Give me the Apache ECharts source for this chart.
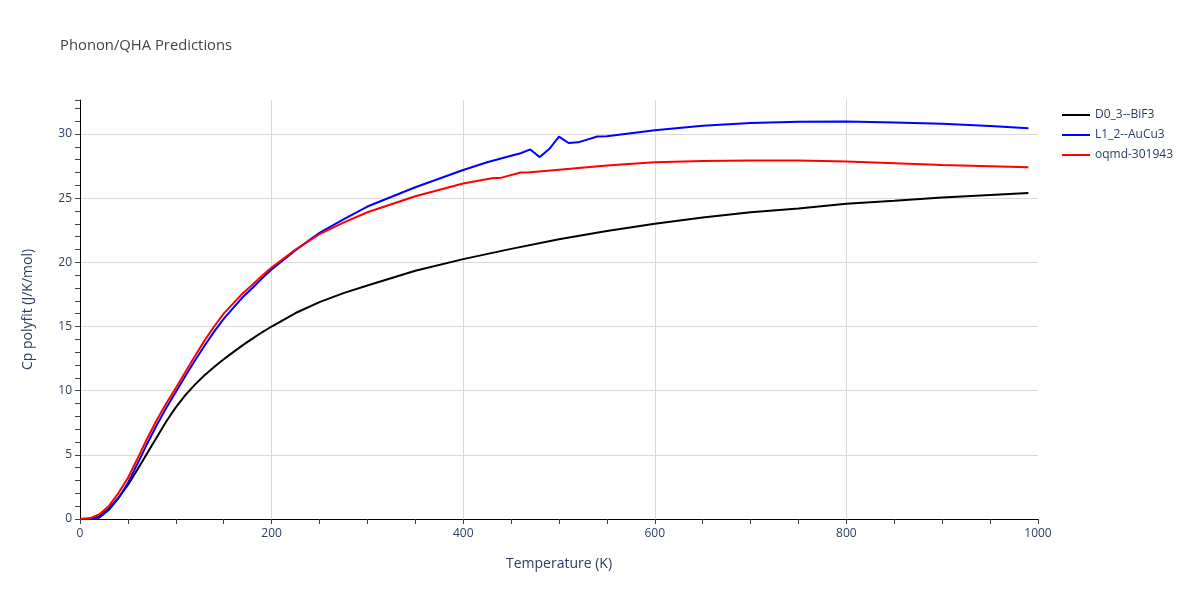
<!DOCTYPE html>
<html>
<head>
<meta charset="utf-8">
<script src="https://cdn.jsdelivr.net/npm/echarts@6/dist/echarts.min.js"></script>
<style>html,body{margin:0;padding:0;background:#fff}#c{width:1200px;height:600px}</style>
</head>
<body>
<div id="c"></div>
<script>
var temps = [0,10,20,30,40,50,60,70,80,90,100,110,120,130,140,150,160,170,180,190,200,225,250,275,300,350,400,450,500,550,600,650,700,750,800,850,900,950,990];
var cpBiF3 = [0,0.02,0.2,0.8,1.65,2.65,3.85,5.1,6.35,7.6,8.7,9.65,10.47,11.2,11.85,12.45,13.0,13.55,14.05,14.55,15.0,16.05,16.9,17.6,18.2,19.35,20.25,21.05,21.8,22.45,23.0,23.5,23.9,24.2,24.56,24.8,25.05,25.25,25.4];
var cpOqmd = [0,0.05,0.35,1.0,2.0,3.2,4.7,6.25,7.7,9.0,10.2,11.45,12.7,13.9,15.0,16.0,16.8,17.6,18.25,18.95,19.6,21.0,22.2,23.1,23.9,25.15,26.15,26.85,27.22,27.55,27.8,27.9,27.93,27.93,27.85,27.72,27.58,27.48,27.4];
var tempsAuCu3 = [0,10,20,30,40,50,60,70,80,90,100,110,120,130,140,150,160,170,180,190,200,225,250,275,300,350,400,425,450,460,470,480,490,500,510,520,540,550,600,650,700,750,800,850,900,950,990];
var cpAuCu3 = [0,0.01,0.1,0.7,1.6,2.8,4.3,5.85,7.3,8.65,9.9,11.15,12.35,13.5,14.6,15.6,16.45,17.3,18.0,18.75,19.45,20.95,22.3,23.35,24.35,25.85,27.2,27.8,28.3,28.5,28.8,28.2,28.85,29.8,29.3,29.35,29.8,29.82,30.3,30.65,30.85,30.95,30.98,30.9,30.8,30.62,30.45];
// red plateau detail (oqmd) around 430-470
var oqmdDetailT = [430,440,460,470];
var oqmdDetailV = [26.55,26.6,27.0,27.02];

function pairs(t, v){ return t.map(function(x,i){ return [x, v[i]]; }); }
var oqmdPairs = pairs(temps, cpOqmd).filter(function(p){ return p[0] !== 450; })
  .concat(pairs(oqmdDetailT, oqmdDetailV)).sort(function(a,b){return a[0]-b[0];});

var font = '"Open Sans", "Noto Sans", sans-serif';
var txt = '#2a3f5f';
var chart = echarts.init(document.getElementById('c'));
chart.setOption({
  animation: false,
  backgroundColor: '#fff',
  title: { text: 'Phonon/QHA Predictions', left: 55, top: 33, textStyle: { fontFamily: font, fontSize: 14.8, fontWeight: 'normal', color: '#444' } },
  legend: {
    left: 1057, top: 104, orient: 'vertical', itemGap: 8, itemWidth: 28, itemHeight: 2,
    icon: 'rect',
    textStyle: { fontFamily: font, fontSize: 12, color: txt },
    data: ['D0_3--BiF3', 'L1_2--AuCu3', 'oqmd-301943']
  },
  grid: { left: 80, right: 162, top: 100, bottom: 81, containLabel: false },
  xAxis: [
    { type: 'value', min: 0, max: 1000, interval: 200,
      name: 'Temperature (K)', nameLocation: 'middle', nameGap: 38,
      nameTextStyle: { fontFamily: font, fontSize: 14, color: txt },
      axisLine: { show: true, onZero: false, lineStyle: { color: '#000', width: 1 } },
      axisTick: { show: false },
      axisLabel: { fontFamily: font, fontSize: 12, color: txt, margin: 9, formatter: function(v){ return String(v); } },
      splitLine: { show: true, showMinLine: false, showMaxLine: false, lineStyle: { color: '#d9d9d9', width: 1 } } },
    { type: 'value', min: 0, max: 1000, interval: 50, position: 'bottom',
      axisLine: { show: false }, axisLabel: { show: false },
      axisTick: { show: true, length: 5, lineStyle: { color: '#444' } },
      splitLine: { show: false } }
  ],
  yAxis: [
    { type: 'value', min: 0, max: 32.65, interval: 5,
      name: 'Cp polyfit (J/K/mol)', nameLocation: 'middle', nameGap: 45,
      nameTextStyle: { fontFamily: font, fontSize: 14, color: txt },
      axisLine: { show: true, onZero: false, lineStyle: { color: '#000', width: 1 } },
      axisTick: { show: false },
      axisLabel: { fontFamily: font, fontSize: 12, color: txt, margin: 8, showMaxLabel: false },
      splitLine: { show: true, showMinLine: false, showMaxLine: false, lineStyle: { color: '#d9d9d9', width: 1 } } },
    { type: 'value', min: 0, max: 32.65, interval: 1, position: 'left',
      axisLine: { show: false }, axisLabel: { show: false },
      axisTick: { show: true, length: 5, lineStyle: { color: '#444' } },
      splitLine: { show: false } }
  ],
  series: [
    { name: 'D0_3--BiF3', type: 'line', data: pairs(temps, cpBiF3), showSymbol: false, symbol: 'none', lineStyle: { color: '#000', width: 2 }, itemStyle: { color: '#000' } },
    { name: 'L1_2--AuCu3', type: 'line', data: pairs(tempsAuCu3, cpAuCu3), showSymbol: false, symbol: 'none', lineStyle: { color: '#0000ff', width: 2 }, itemStyle: { color: '#0000ff' } },
    { name: 'oqmd-301943', type: 'line', data: oqmdPairs, showSymbol: false, symbol: 'none', lineStyle: { color: '#ff0000', width: 2 }, itemStyle: { color: '#ff0000' } }
  ]
});
</script>
</body>
</html>
